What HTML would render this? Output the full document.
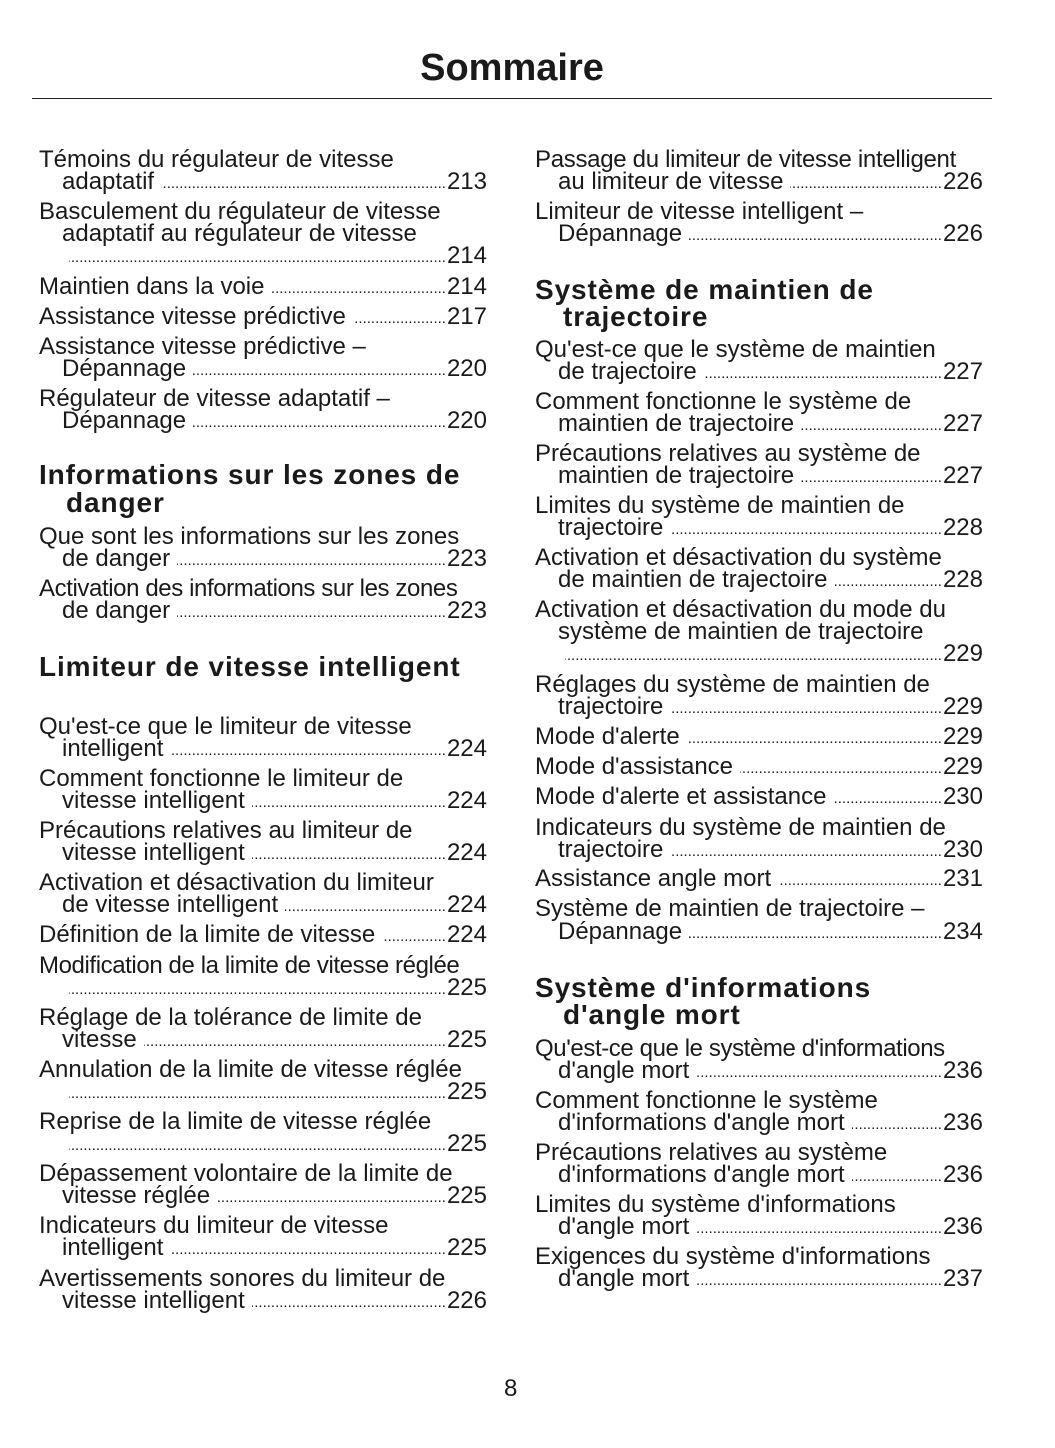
<!DOCTYPE html>
<html><head><meta charset="utf-8"><style>
body{margin:0;width:1055px;height:1448px;background:#fff;position:relative;overflow:hidden;font-family:"Liberation Sans",sans-serif;color:#1a1a1a}
.t,.d{position:absolute;font-size:24px;line-height:26px;white-space:nowrap}
.d{display:flex}
.d i{flex:1;overflow:hidden;font-style:normal;margin:0 1px 0 7px;font-size:15px;letter-spacing:0;line-height:29px;direction:rtl}
.d i::after{content:"........................................................................................................................................................................................................................"}
.h{position:absolute;font-size:28px;font-weight:bold;line-height:28px;white-space:nowrap;letter-spacing:0.9px}
.L{left:39px}.LI{left:62px}.R{left:535px}.RI{left:558px}
.dl{left:62px;width:425px}.dr{left:558px;width:425px}
</style></head><body>
<div style="position:absolute;top:46px;left:0;width:1024px;text-align:center;font-size:38px;font-weight:bold;line-height:44px">Sommaire</div>
<div style="position:absolute;top:98px;left:32px;width:960px;height:1px;background:#222"></div>

<div class="t L" style="top:147px">Témoins du régulateur de vitesse</div>
<div class="d dl" style="top:169px"><span>adaptatif</span><i></i><span>213</span></div>
<div class="t L" style="top:199px">Basculement du régulateur de vitesse</div>
<div class="t LI" style="top:221px">adaptatif au régulateur de vitesse</div>
<div class="d dl" style="top:243px"><span></span><i></i><span>214</span></div>
<div class="d L" style="top:274px;width:448px"><span>Maintien dans la voie</span><i></i><span>214</span></div>
<div class="d L" style="top:304px;width:448px"><span>Assistance vitesse prédictive</span><i></i><span>217</span></div>
<div class="t L" style="top:334px">Assistance vitesse prédictive –</div>
<div class="d dl" style="top:356px"><span>Dépannage</span><i></i><span>220</span></div>
<div class="t L" style="top:386px">Régulateur de vitesse adaptatif –</div>
<div class="d dl" style="top:408px"><span>Dépannage</span><i></i><span>220</span></div>

<div class="h L" style="top:461px">Informations sur les zones de</div>
<div class="h" style="top:489px;left:66px">danger</div>
<div class="t L" style="top:524px">Que sont les informations sur les zones</div>
<div class="d dl" style="top:546px"><span>de danger</span><i></i><span>223</span></div>
<div class="t L" style="top:576px;letter-spacing:-0.4px">Activation des informations sur les zones</div>
<div class="d dl" style="top:598px"><span>de danger</span><i></i><span>223</span></div>

<div class="h L" style="top:653px">Limiteur de vitesse intelligent</div>
<div class="t L" style="top:714px">Qu'est-ce que le limiteur de vitesse</div>
<div class="d dl" style="top:736px"><span>intelligent</span><i></i><span>224</span></div>
<div class="t L" style="top:766px">Comment fonctionne le limiteur de</div>
<div class="d dl" style="top:788px"><span>vitesse intelligent</span><i></i><span>224</span></div>
<div class="t L" style="top:818px">Précautions relatives au limiteur de</div>
<div class="d dl" style="top:840px"><span>vitesse intelligent</span><i></i><span>224</span></div>
<div class="t L" style="top:870px">Activation et désactivation du limiteur</div>
<div class="d dl" style="top:892px"><span>de vitesse intelligent</span><i></i><span>224</span></div>
<div class="d L" style="top:922px;width:448px"><span>Définition de la limite de vitesse</span><i></i><span>224</span></div>
<div class="t L" style="top:953px;letter-spacing:-0.4px">Modification de la limite de vitesse réglée</div>
<div class="d dl" style="top:975px"><span></span><i></i><span>225</span></div>
<div class="t L" style="top:1005px">Réglage de la tolérance de limite de</div>
<div class="d dl" style="top:1027px"><span>vitesse</span><i></i><span>225</span></div>
<div class="t L" style="top:1057px">Annulation de la limite de vitesse réglée</div>
<div class="d dl" style="top:1079px"><span></span><i></i><span>225</span></div>
<div class="t L" style="top:1109px">Reprise de la limite de vitesse réglée</div>
<div class="d dl" style="top:1131px"><span></span><i></i><span>225</span></div>
<div class="t L" style="top:1161px">Dépassement volontaire de la limite de</div>
<div class="d dl" style="top:1183px"><span>vitesse réglée</span><i></i><span>225</span></div>
<div class="t L" style="top:1213px">Indicateurs du limiteur de vitesse</div>
<div class="d dl" style="top:1235px"><span>intelligent</span><i></i><span>225</span></div>
<div class="t L" style="top:1266px">Avertissements sonores du limiteur de</div>
<div class="d dl" style="top:1288px"><span>vitesse intelligent</span><i></i><span>226</span></div>

<div class="t R" style="top:147px;letter-spacing:-0.3px">Passage du limiteur de vitesse intelligent</div>
<div class="d dr" style="top:169px"><span>au limiteur de vitesse</span><i></i><span>226</span></div>
<div class="t R" style="top:199px">Limiteur de vitesse intelligent –</div>
<div class="d dr" style="top:221px"><span>Dépannage</span><i></i><span>226</span></div>

<div class="h R" style="top:276px">Système de maintien de</div>
<div class="h" style="top:303px;left:563px">trajectoire</div>
<div class="t R" style="top:337px">Qu'est-ce que le système de maintien</div>
<div class="d dr" style="top:359px"><span>de trajectoire</span><i></i><span>227</span></div>
<div class="t R" style="top:389px">Comment fonctionne le système de</div>
<div class="d dr" style="top:411px"><span>maintien de trajectoire</span><i></i><span>227</span></div>
<div class="t R" style="top:441px">Précautions relatives au système de</div>
<div class="d dr" style="top:463px"><span>maintien de trajectoire</span><i></i><span>227</span></div>
<div class="t R" style="top:493px">Limites du système de maintien de</div>
<div class="d dr" style="top:515px"><span>trajectoire</span><i></i><span>228</span></div>
<div class="t R" style="top:545px">Activation et désactivation du système</div>
<div class="d dr" style="top:567px"><span>de maintien de trajectoire</span><i></i><span>228</span></div>
<div class="t R" style="top:597px">Activation et désactivation du mode du</div>
<div class="t RI" style="top:619px">système de maintien de trajectoire</div>
<div class="d dr" style="top:641px"><span></span><i></i><span>229</span></div>
<div class="t R" style="top:672px">Réglages du système de maintien de</div>
<div class="d dr" style="top:694px"><span>trajectoire</span><i></i><span>229</span></div>
<div class="d R" style="top:724px;width:448px"><span>Mode d'alerte</span><i></i><span>229</span></div>
<div class="d R" style="top:754px;width:448px"><span>Mode d'assistance</span><i></i><span>229</span></div>
<div class="d R" style="top:784px;width:448px"><span>Mode d'alerte et assistance</span><i></i><span>230</span></div>
<div class="t R" style="top:815px">Indicateurs du système de maintien de</div>
<div class="d dr" style="top:837px"><span>trajectoire</span><i></i><span>230</span></div>
<div class="d R" style="top:866px;width:448px"><span>Assistance angle mort</span><i></i><span>231</span></div>
<div class="t R" style="top:896px">Système de maintien de trajectoire –</div>
<div class="d dr" style="top:919px"><span>Dépannage</span><i></i><span>234</span></div>

<div class="h R" style="top:974px">Système d'informations</div>
<div class="h" style="top:1001px;left:563px">d'angle mort</div>
<div class="t R" style="top:1036px;letter-spacing:-0.4px">Qu'est-ce que le système d'informations</div>
<div class="d dr" style="top:1058px"><span>d'angle mort</span><i></i><span>236</span></div>
<div class="t R" style="top:1088px">Comment fonctionne le système</div>
<div class="d dr" style="top:1110px"><span>d'informations d'angle mort</span><i></i><span>236</span></div>
<div class="t R" style="top:1140px">Précautions relatives au système</div>
<div class="d dr" style="top:1162px"><span>d'informations d'angle mort</span><i></i><span>236</span></div>
<div class="t R" style="top:1192px">Limites du système d'informations</div>
<div class="d dr" style="top:1214px"><span>d'angle mort</span><i></i><span>236</span></div>
<div class="t R" style="top:1244px">Exigences du système d'informations</div>
<div class="d dr" style="top:1266px"><span>d'angle mort</span><i></i><span>237</span></div>

<div class="t" style="top:1376px;left:504px">8</div>
</body></html>
